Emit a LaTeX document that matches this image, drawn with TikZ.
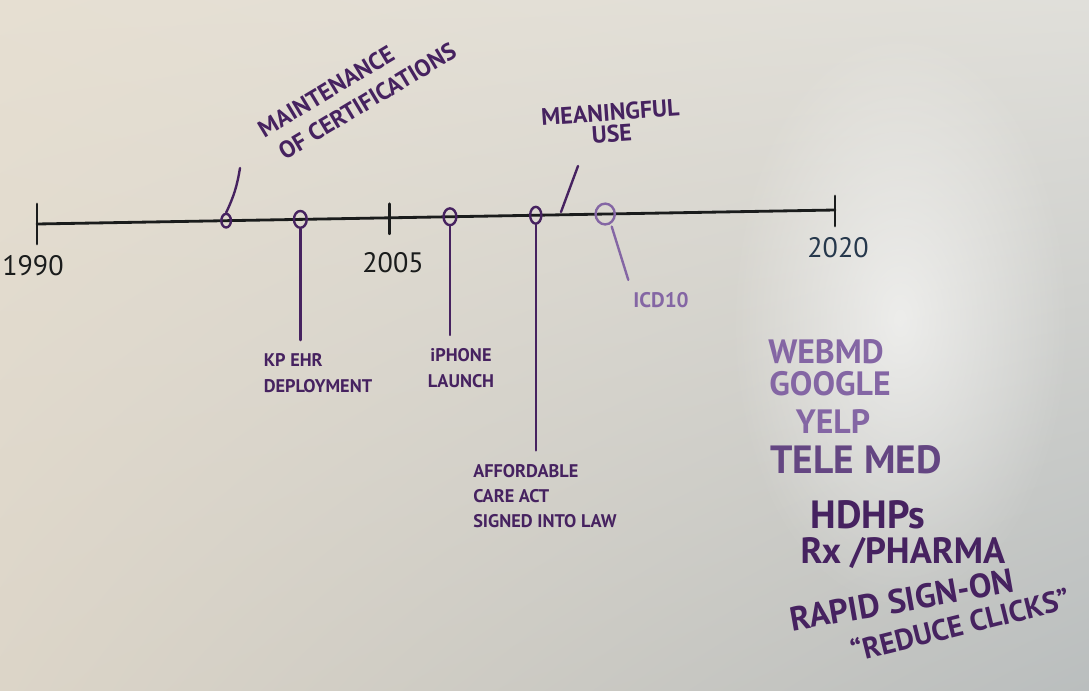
\documentclass[tikz,border=0pt]{standalone}
\usepackage{fontspec}
\setmainfont{PT Sans}
\usepackage{tikz}
\usetikzlibrary{shapes.geometric,fadings,shadings}
\definecolor{ink}{RGB}{70,34,96}
\definecolor{paleink}{RGB}{132,102,164}
\definecolor{midink}{RGB}{100,70,130}
\definecolor{lineblack}{RGB}{26,28,28}
\definecolor{slate}{RGB}{38,56,76}
\definecolor{boardul}{RGB}{230,223,210}
\definecolor{boardur}{RGB}{224,223,218}
\definecolor{boardll}{RGB}{220,213,200}
\definecolor{boardlr}{RGB}{186,190,190}
\tikzfading[name=glare,inner color=transparent!0,outer color=transparent!100]

\begin{document}
\begin{tikzpicture}[x=0.025cm,y=-0.025cm,
    axis/.style={lineblack,line width=2pt,line cap=round},
    pen/.style={ink,line width=1.7pt,line cap=round},
    event/.style={ellipse,draw=ink,line width=1.7pt,inner sep=0pt,minimum width=0.32cm,minimum height=0.42cm},
    year/.style={font=\fontsize{20}{22}\selectfont,inner sep=1pt},
    note/.style={text=ink,font=\bfseries\fontsize{13}{19}\selectfont,align=left,inner sep=1pt},
    idea/.style={text=ink,font=\bfseries\fontsize{24}{26}\selectfont,inner sep=1pt}]
        % whiteboard
        \shade[upper left=boardul,upper right=boardur,lower left=boardll,lower right=boardlr](0,0)rectangle(1089,690);
        \fill[white,path fading=glare,opacity=0.6](900,320)ellipse[x radius=170,y radius=290];
        \useasboundingbox(0,0)rectangle(1089,690);
        % timeline
        \coordinate(t0)at(37,224);
        \coordinate(t1)at(835,210);
        \draw[axis](t0)--(t1);
        \path(t0)--(t1)coordinate[pos=0.442](t05);
        \draw[axis](t0)++(0,-20)--++(0,40);
        \draw[axis](t05)++(0,-14)--++(0,30);
        \draw[axis](t1)++(0,-14)--++(0,30);
        \node[year,text=lineblack](y1990)at(33,266){1990};
        \node[year,text=lineblack](y2005)at(393,263){2005};
        \node[year,text=slate](y2020)at(838,248){2020};
        % events on the line
        \path(t0)--(t1)
            node[event,pos=0.237,minimum width=0.24cm,minimum height=0.34cm](moc){}
            node[event,pos=0.330](kp){}
            node[event,pos=0.5175](ip){}
            node[event,pos=0.625,minimum width=0.28cm](aca){}
            node[event,pos=0.712,draw=paleink,minimum width=0.48cm,minimum height=0.52cm](icd){};
        % labels
        \node[note,font=\bfseries\fontsize{17}{21}\selectfont,rotate=31](moclab)at(357,90){MAINTENANCE\\ \ OF CERTIFICATIONS};
        \node[note,font=\bfseries\fontsize{17}{15}\selectfont,align=center,rotate=4](mulab)at(611,123){MEANINGFUL\\USE};
        \node[note](kplab)at(318,373){KP EHR\\DEPLOYMENT};
        \node[note,align=center](iplab)at(461,368){iPHONE\\LAUNCH};
        \node[note,font=\bfseries\fontsize{13}{17.5}\selectfont](acalab)at(545,496){AFFORDABLE\\CARE ACT\\SIGNED INTO LAW};
        \node[note,text=paleink,font=\bfseries\fontsize{15}{18}\selectfont](icdlab)at(661,300){ICD10};
        % leaders
        \coordinate(moctip)at(240,168);
        \coordinate(mufoot)at(561,212);
        \coordinate(mutip)at(578,166);
        \draw[pen](moc.north)to[bend right=8](moctip);
        \draw[pen](mufoot)--(mutip);
        \draw[pen,shorten >=8pt](kp.south)--(kp.south|-kplab.north);
        \draw[pen,shorten >=8pt](ip.south)--(ip.south|-iplab.north);
        \draw[pen,shorten >=9pt](aca.south)--(aca.south|-acalab.north);
        \draw[pen,paleink,shorten <=2pt,shorten >=8pt](icd.-60)--(icdlab.north west);
        % list on the right
        \node[idea,text=paleink](webmd)at(826,352){WEBMD};
        \node[idea,text=paleink](google)at(830,384){GOOGLE};
        \node[idea,text=paleink](yelp)at(833,422){YELP};
        \node[idea,text=midink,font=\bfseries\fontsize{28}{30}\selectfont](telemed)at(856,460){TELE MED};
        \node[idea,font=\bfseries\fontsize{28}{30}\selectfont](hdhp)at(868,515){HDHPs};
        \node[idea,font=\bfseries\fontsize{26}{28}\selectfont](pharma)at(903,553){Rx /PHARMA};
        \node[idea,rotate=10](rapid)at(902,600){RAPID SIGN-ON};
        \node[idea,font=\bfseries\fontsize{21}{24}\selectfont,rotate=14](clicks)at(960,624){``REDUCE CLICKS''};
    \end{tikzpicture}
\end{document}
